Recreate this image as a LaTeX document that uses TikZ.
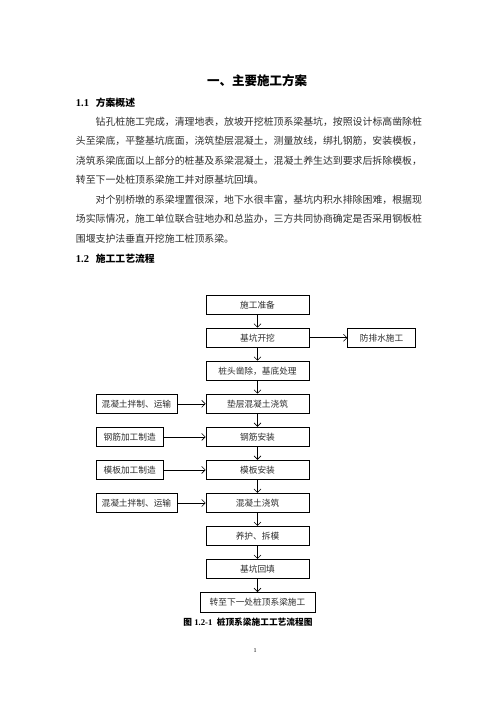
\documentclass[tikz,border=0pt]{standalone}
\usepackage{fontspec}
\setmainfont{Liberation Serif}
\newfontfamily\cjk{Noto Sans CJK SC}
\usetikzlibrary{positioning,arrows.meta}
\definecolor{inkgray}{RGB}{45,45,45}

\begin{document}
\begin{tikzpicture}[
    x=1pt, y=-1pt,
    node distance=12.8pt,
    stage/.style={rectangle, draw, line width=0.75pt, minimum width=103pt, minimum height=19.5pt, inner sep=1pt, align=center, font=\cjk\fontsize{8.7}{10}\selectfont, text=inkgray},
    feed/.style={stage, minimum width=67.7pt, anchor=west},
    bodyline/.style={anchor=west, inner sep=0pt, font=\cjk\fontsize{9.886}{12}\selectfont, text=inkgray},
    sechead/.style={anchor=west, inner sep=0pt, font=\fontsize{10.5}{12}\selectfont\bfseries},
    arrow/.style={-{Straight Barb[length=3.5pt,width=7pt]}, line width=0.6pt}
]
\useasboundingbox (0,0) rectangle (496,702);

% page text
\node[inner sep=0pt, font=\cjk\bfseries\fontsize{12.5}{14}\selectfont] (title) at (257,81) {一、主要施工方案};
\node[sechead] (sec1) at (75.7,102.7) {\makebox[20pt][l]{1.1}{\cjk\fontsize{9.8}{12}\selectfont 方案概述}};
\node[bodyline] (p1a) at (95.5,121.7) {钻孔桩施工完成，清理地表，放坡开挖桩顶系梁基坑，按照设计标高凿除桩};
\node[bodyline] (p1b) at (75.7,141) {头至梁底，平整基坑底面，浇筑垫层混凝土，测量放线，绑扎钢筋，安装模板，};
\node[bodyline] (p1c) at (75.7,160.5) {浇筑系梁底面以上部分的桩基及系梁混凝土，混凝土养生达到要求后拆除模板，};
\node[bodyline] (p1d) at (75.7,180) {转至下一处桩顶系梁施工并对原基坑回填。};
\node[bodyline] (p2a) at (95.5,199.5) {对个别桥墩的系梁埋置很深，地下水很丰富，基坑内积水排除困难，根据现};
\node[bodyline] (p2b) at (75.7,219) {场实际情况，施工单位联合驻地办和总监办，三方共同协商确定是否采用钢板桩};
\node[bodyline] (p2c) at (75.7,238.5) {围堰支护法垂直开挖施工桩顶系梁。};
\node[sechead] (sec2) at (75.7,258.5) {\makebox[20pt][l]{1.2}{\cjk\fontsize{9.8}{12}\selectfont 施工工艺流程}};

% main flow
\node[stage] (prep) at (257.5,304.7) {施工准备};
\node[stage, below=of prep] (dig) {基坑开挖};
\node[stage, right=38pt of dig, minimum width=67.7pt] (drain) {防排水施工};
\node[stage, below=of dig] (pile) {桩头凿除，基底处理};
\node[stage, below=of pile] (pad) {垫层混凝土浇筑};
\node[stage, below=of pad] (rebar) {钢筋安装};
\node[stage, below=of rebar] (form) {模板安装};
\node[stage, below=of form] (pour) {混凝土浇筑};
\node[stage, below=of pour] (cure) {养护、拆模};
\node[stage, below=of cure] (fill) {基坑回填};
\node[stage, below=of fill, minimum width=115pt] (next) {转至下一处桩顶系梁施工};

% side inputs
\node[feed, minimum width=81pt] (mix1) at (95.5,0 |- pad) {混凝土拌制、运输};
\node[feed] (bend) at (95.5,0 |- rebar) {钢筋加工制造};
\node[feed] (mould) at (95.5,0 |- form) {模板加工制造};
\node[feed, minimum width=81pt] (mix2) at (95.5,0 |- pour) {混凝土拌制、运输};

\foreach \a/\b in {prep/dig, dig/pile, pile/pad, pad/rebar, rebar/form, form/pour, pour/cure, cure/fill, fill/next}
    \draw[arrow] (\a) -- (\b);
\draw[arrow] (dig) -- (drain);
\foreach \a/\b in {mix1/pad, bend/rebar, mould/form, mix2/pour}
    \draw[arrow] (\a) -- (\b);

\node[inner sep=0pt, font=\fontsize{8.7}{10}\selectfont\bfseries] (cap) at (248,621.7) {{\cjk 图}~1.2-1~ {\cjk 桩顶系梁施工工艺流程图}};
\node[inner sep=0pt, font=\fontsize{6}{7}\selectfont] (pageno) at (255,650.7) {1};

\end{tikzpicture}
\end{document}
